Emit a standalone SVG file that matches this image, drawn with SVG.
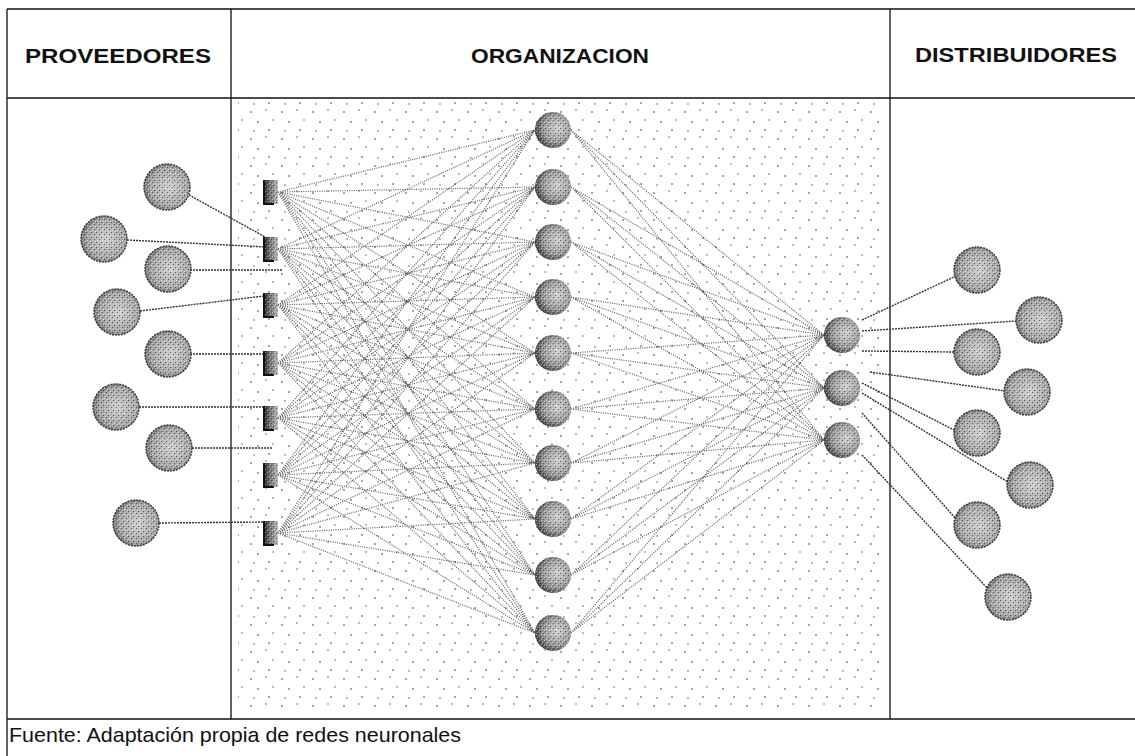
<svg xmlns="http://www.w3.org/2000/svg" width="1135" height="756" viewBox="0 0 1135 756">
  <style>
    .frame { stroke: #111; stroke-width: 1.3; fill: none; }
    .head { font-family: "Liberation Sans", Arial, sans-serif; font-weight: bold; font-size: 21px; fill: #111; }
    .foot { font-family: "Liberation Sans", Arial, sans-serif; font-size: 21px; fill: #111; }
    .net { stroke: #333; stroke-width: 1.2; stroke-dasharray: 1 1.3; fill: none; opacity: 0.8; }
    .link { stroke: #333; stroke-width: 1.4; stroke-dasharray: 2 1; fill: none; }
    .ball { stroke: #333; stroke-width: 1.4; stroke-dasharray: 2 1; }
    .grain { fill: url(#grain); }
  </style>
  <defs>
    <radialGradient id="ballFill" cx="0.55" cy="0.5" r="0.6">
      <stop offset="0" stop-color="#cfcfcf"/>
      <stop offset="0.7" stop-color="#a4a4a4"/>
      <stop offset="1" stop-color="#5e5e5e"/>
    </radialGradient>
    <radialGradient id="hidFill" cx="0.62" cy="0.45" r="0.65">
      <stop offset="0" stop-color="#d0d0d0"/>
      <stop offset="0.6" stop-color="#999"/>
      <stop offset="1" stop-color="#333"/>
    </radialGradient>
    <linearGradient id="sqFill" x1="0" y1="0" x2="1" y2="0">
      <stop offset="0" stop-color="#222"/>
      <stop offset="0.35" stop-color="#666"/>
      <stop offset="1" stop-color="#bbb"/>
    </linearGradient>
    <pattern id="grain" width="5" height="5" patternUnits="userSpaceOnUse">
      <rect x="0" y="0" width="1" height="1" fill="#222"/>
      <rect x="3" y="1" width="1" height="1" fill="#fff"/>
      <rect x="2" y="3" width="1" height="1" fill="#111"/>
      <rect x="4" y="4" width="1" height="1" fill="#eee"/>
      <rect x="1" y="2" width="1" height="1" fill="#fff"/>
    </pattern>
    <pattern id="stipple" width="31" height="27" patternUnits="userSpaceOnUse">
      <circle cx="3" cy="4" r="0.8" fill="#333"/>
      <circle cx="18" cy="2" r="0.7" fill="#444"/>
      <circle cx="10" cy="14" r="0.8" fill="#333"/>
      <circle cx="25" cy="12" r="0.7" fill="#444"/>
      <circle cx="21" cy="22" r="0.8" fill="#333"/>
      <circle cx="6" cy="23" r="0.7" fill="#444"/>
    </pattern>
    <g id="sq">
      <rect x="-7" y="-12" width="14" height="24" fill="url(#sqFill)"/>
      <rect x="-7" y="-12" width="14" height="24" class="grain" opacity="0.5"/>
      <path d="M-7 -12V12H3" stroke="#111" stroke-width="2" fill="none"/>
    </g>
    <g id="outer">
      <circle r="23" fill="url(#ballFill)" class="ball"/>
      <circle r="22" class="grain" opacity="0.6"/>
    </g>
    <g id="inner">
      <circle r="18" fill="url(#hidFill)"/>
      <circle r="18" class="grain" opacity="0.55"/>
    </g>
  </defs>

  <rect width="1135" height="756" fill="#fff"/>

  <!-- dotted shading of the middle panel -->
  <rect x="238" y="101" width="645" height="612" fill="url(#stipple)"/>

  <!-- table frame -->
  <g id="table">
    <path class="frame" d="M7 9H1135M7 98H1135M7 719H1135M7 9V756M231 9V719M890 9V719"/>
  </g>

  <g id="headers">
    <text class="head" x="118" y="63" text-anchor="middle" textLength="186" lengthAdjust="spacingAndGlyphs">PROVEEDORES</text>
    <text class="head" x="560" y="63" text-anchor="middle" textLength="178" lengthAdjust="spacingAndGlyphs">ORGANIZACION</text>
    <text class="head" x="1016" y="62" text-anchor="middle" textLength="202" lengthAdjust="spacingAndGlyphs">DISTRIBUIDORES</text>
  </g>

  <!-- connectors -->
  <g id="connectors">
    <path class="net" d="
      M278 192L535 130M278 192L535 187M278 192L535 242M278 192L535 297M278 192L535 353M278 192L535 409M278 192L535 463M278 192L535 519M278 192L535 575M278 192L535 633
      M278 249L535 130M278 249L535 187M278 249L535 242M278 249L535 297M278 249L535 353M278 249L535 409M278 249L535 463M278 249L535 519M278 249L535 575M278 249L535 633
      M278 305L535 130M278 305L535 187M278 305L535 242M278 305L535 297M278 305L535 353M278 305L535 409M278 305L535 463M278 305L535 519M278 305L535 575M278 305L535 633
      M278 363L535 130M278 363L535 187M278 363L535 242M278 363L535 297M278 363L535 353M278 363L535 409M278 363L535 463M278 363L535 519M278 363L535 575M278 363L535 633
      M278 418L535 130M278 418L535 187M278 418L535 242M278 418L535 297M278 418L535 353M278 418L535 409M278 418L535 463M278 418L535 519M278 418L535 575M278 418L535 633
      M278 475L535 130M278 475L535 187M278 475L535 242M278 475L535 297M278 475L535 353M278 475L535 409M278 475L535 463M278 475L535 519M278 475L535 575M278 475L535 633
      M278 533L535 130M278 533L535 187M278 533L535 242M278 533L535 297M278 533L535 353M278 533L535 409M278 533L535 463M278 533L535 519M278 533L535 575M278 533L535 633"/>
    <path class="net" d="
      M571 130L824 335M571 130L824 388M571 130L824 440
      M571 187L824 335M571 187L824 388M571 187L824 440
      M571 242L824 335M571 242L824 388M571 242L824 440
      M571 297L824 335M571 297L824 388M571 297L824 440
      M571 353L824 335M571 353L824 388M571 353L824 440
      M571 409L824 335M571 409L824 388M571 409L824 440
      M571 463L824 335M571 463L824 388M571 463L824 440
      M571 519L824 335M571 519L824 388M571 519L824 440
      M571 575L824 335M571 575L824 388M571 575L824 440
      M571 633L824 335M571 633L824 388M571 633L824 440"/>
    <!-- suppliers to input layer -->
    <path class="link" d="
      M189 195L267 238
      M127 240L267 247
      M190 270L282 270
      M140 311L264 296
      M190 354L266 354
      M139 407L266 407
      M192 448L272 448
      M159 523L266 522"/>
    <!-- output layer to distributors -->
    <path class="link" d="
      M862 320L956 276
      M862 331L1016 321
      M862 351L954 352
      M870 372L1005 391
      M862 383L956 431
      M862 393L1008 482
      M862 413L957 520
      M862 455L990 591"/>
  </g>

  <!-- suppliers -->
  <g id="proveedor-1"><use href="#outer" x="167" y="187"/></g>
  <g id="proveedor-2"><use href="#outer" x="104" y="239"/></g>
  <g id="proveedor-3"><use href="#outer" x="168" y="269"/></g>
  <g id="proveedor-4"><use href="#outer" x="117" y="312"/></g>
  <g id="proveedor-5"><use href="#outer" x="168" y="354"/></g>
  <g id="proveedor-6"><use href="#outer" x="116" y="407"/></g>
  <g id="proveedor-7"><use href="#outer" x="169" y="448"/></g>
  <g id="proveedor-8"><use href="#outer" x="136" y="523"/></g>

  <!-- input layer -->
  <g id="entrada-1"><use href="#sq" x="271" y="192"/></g>
  <g id="entrada-2"><use href="#sq" x="271" y="249"/></g>
  <g id="entrada-3"><use href="#sq" x="271" y="305"/></g>
  <g id="entrada-4"><use href="#sq" x="271" y="363"/></g>
  <g id="entrada-5"><use href="#sq" x="271" y="418"/></g>
  <g id="entrada-6"><use href="#sq" x="271" y="475"/></g>
  <g id="entrada-7"><use href="#sq" x="271" y="533"/></g>

  <!-- hidden layer -->
  <g id="oculta-1"><use href="#inner" x="553" y="130"/></g>
  <g id="oculta-2"><use href="#inner" x="553" y="187"/></g>
  <g id="oculta-3"><use href="#inner" x="553" y="242"/></g>
  <g id="oculta-4"><use href="#inner" x="553" y="297"/></g>
  <g id="oculta-5"><use href="#inner" x="553" y="353"/></g>
  <g id="oculta-6"><use href="#inner" x="553" y="409"/></g>
  <g id="oculta-7"><use href="#inner" x="553" y="463"/></g>
  <g id="oculta-8"><use href="#inner" x="553" y="519"/></g>
  <g id="oculta-9"><use href="#inner" x="553" y="575"/></g>
  <g id="oculta-10"><use href="#inner" x="553" y="633"/></g>

  <!-- output layer -->
  <g id="salida-1"><use href="#inner" x="842" y="335"/></g>
  <g id="salida-2"><use href="#inner" x="842" y="388"/></g>
  <g id="salida-3"><use href="#inner" x="842" y="440"/></g>

  <!-- distributors -->
  <g id="distribuidor-1"><use href="#outer" x="977" y="270"/></g>
  <g id="distribuidor-2"><use href="#outer" x="1039" y="320"/></g>
  <g id="distribuidor-3"><use href="#outer" x="977" y="352"/></g>
  <g id="distribuidor-4"><use href="#outer" x="1027" y="392"/></g>
  <g id="distribuidor-5"><use href="#outer" x="977" y="433"/></g>
  <g id="distribuidor-6"><use href="#outer" x="1030" y="485"/></g>
  <g id="distribuidor-7"><use href="#outer" x="977" y="525"/></g>
  <g id="distribuidor-8"><use href="#outer" x="1008" y="597"/></g>

  <g id="fuente">
    <text class="foot" x="9" y="742" textLength="452" lengthAdjust="spacingAndGlyphs">Fuente: Adaptación propia de redes neuronales</text>
  </g>
</svg>
